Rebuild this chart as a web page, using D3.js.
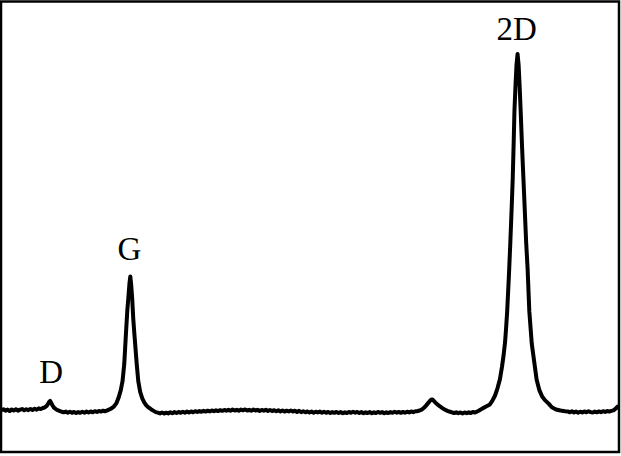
<!DOCTYPE html>
<html>
<head>
<meta charset="utf-8">
<script src="https://cdn.jsdelivr.net/npm/d3@7"></script>
<style>
  html, body { margin: 0; padding: 0; background: #fff; }
  svg { display: block; }
</style>
</head>
<body>
<svg id="chart" width="621" height="456"></svg>
<script>
// Raman shift (cm^-1)
const shifts = [
  1209,1216,1222,1228,1234,1240,1246,1252,1258,1264,1270,1276,1282,1288,1294,1300,1306,1312,1318,1324,
  1330,1336,1341,1345,1348,1351,1354,1358,1362,1367,1372,1378,1384,1390,1396,1402,1408,1414,1420,1426,
  1432,1438,1444,1450,1456,1462,1468,1474,1480,1486,1492,1498,1504,1510,1516,1522,1528,1535,1542,1548,
  1555,1560,1565,1570,1574,1577,1580,1582.5,1585,1588,1591,1594,1601,1605.5,1611,1617,1623,1629,1636,1643,
  1650,1656,1662,1668,1674,1680,1686,1692,1698,1704,1710,1716,1722,1728,1734,1740,1746,1752,1758,1764,
  1770,1776,1782,1788,1794,1800,1806,1812,1818,1824,1830,1836,1842,1848,1854,1860,1866,1872,1878,1884,
  1890,1896,1902,1908,1914,1920,1926,1932,1938,1944,1950,1956,1962,1968,1974,1980,1986,1992,1998,2004,
  2010,2016,2022,2028,2034,2040,2046,2052,2058,2064,2070,2076,2082,2088,2094,2100,2106,2112,2118,2124,
  2130,2136,2142,2148,2154,2160,2166,2172,2178,2184,2190,2196,2202,2208,2214,2220,2226,2232,2238,2244,
  2250,2256,2262,2268,2274,2280,2286,2292,2298,2304,2310,2316,2322,2328,2334,2340,2346,2352,2358,2364,
  2370,2376,2382,2388,2394,2400,2406,2412,2418,2424,2430,2436,2442,2447,2451,2455,2459,2464,2470,2476,
  2482,2488,2494,2500,2506,2512,2518,2524,2530,2536,2542,2548,2554,2560,2566,2572,2578,2584,2590,2600,
  2610,2620,2628,2636,2643,2650,2656,2661,2665,2668,2671,2676,2680,2684,2687,2690,2692,2695,2698,2701,
  2704,2707,2710,2714,2718,2722,2726,2730,2735,2742,2749,2756,2764,2772,2780,2790,2800,2812,2825,2838,
  2846,2852,2858,2864,2870,2876,2882,2888,2894,2900,2906,2912,2918,2924,2930,2936,2942,2948,2954,2960,
  2966,2972,2978,2984,2990,2994
];
// Intensity (arb. units, 2D peak = 100)
const intensity = [
  0.40,0.65,0.25,0.55,0.15,0.60,0.30,0.65,0.25,0.55,0.70,0.35,0.65,0.40,0.75,0.45,0.80,0.55,0.90,0.70,
  1.00,1.20,1.60,2.20,2.70,3.00,2.40,1.70,1.10,0.70,0.40,0.20,-0.05,-0.20,0.00,-0.30,-0.05,-0.35,-0.10,-0.40,
  -0.15,-0.35,-0.05,-0.30,0.00,-0.25,0.05,-0.20,0.10,-0.10,0.15,0.00,0.25,0.10,0.35,0.60,0.90,1.40,2.30,3.70,
  6.00,8.50,13.3,22.0,28.5,32.0,35.8,37.8,35.5,31.5,26.0,22.0,13.3,8.50,5.50,3.70,2.50,1.70,1.10,0.60,
  0.20,-0.15,-0.30,-0.50,-0.25,-0.55,-0.30,-0.50,-0.20,-0.45,-0.15,-0.40,-0.10,-0.35,-0.05,-0.30,0.00,-0.25,0.05,-0.20,
  0.10,-0.10,0.15,-0.05,0.20,0.00,0.25,0.05,0.30,0.10,0.35,0.15,0.40,0.20,0.45,0.25,0.50,0.25,0.55,0.30,
  0.50,0.25,0.55,0.35,0.60,0.30,0.50,0.25,0.55,0.30,0.50,0.20,0.45,0.25,0.50,0.20,0.45,0.15,0.40,0.10,
  0.35,0.05,0.30,0.00,0.25,0.05,0.30,0.00,0.25,-0.10,0.20,-0.15,0.10,-0.20,0.05,-0.25,0.00,-0.30,-0.05,-0.25,
  0.00,-0.30,-0.05,-0.35,-0.10,-0.40,-0.15,-0.35,-0.10,-0.40,-0.15,-0.45,-0.20,-0.40,-0.10,-0.35,-0.05,-0.30,-0.10,-0.40,
  -0.15,-0.45,-0.20,-0.40,-0.15,-0.45,-0.20,-0.40,-0.10,-0.35,-0.15,-0.45,-0.20,-0.40,-0.15,-0.35,-0.05,-0.30,-0.10,-0.35,
  -0.10,-0.30,-0.05,-0.25,0.05,-0.15,0.10,0.10,0.30,0.55,1.00,1.60,2.30,2.90,3.30,3.40,3.00,2.50,2.00,1.50,
  1.10,0.70,0.40,0.15,-0.05,-0.25,-0.40,-0.20,-0.45,-0.25,-0.50,-0.25,-0.45,-0.20,-0.40,-0.10,-0.25,0.00,0.30,0.90,
  1.40,1.90,3.00,4.50,6.50,9.00,12.5,16.0,19.5,23.5,28.0,38.0,47.0,57.0,65.0,76.0,84.0,91.0,97.0,100.0,
  97.0,91.0,84.0,74.0,65.0,56.0,47.0,40.0,28.0,19.0,14.0,9.00,6.00,4.20,3.20,2.30,1.20,0.60,0.30,0.10,
  0.05,-0.20,0.10,-0.25,0.00,-0.30,-0.05,-0.25,0.05,-0.20,0.10,-0.15,-0.25,0.00,-0.20,0.05,-0.15,0.10,-0.10,0.15,
  0.00,0.20,0.35,0.80,1.40,1.00
];
// Peak labels
const peakLabels = ["D", "G", "2D"];
const peakShifts = [1351, 1582.5, 2701];
const peakHeights = [3.0, 37.8, 100];

const W = 621, H = 456;
const svg = d3.select("#chart");

const x = d3.scaleLinear().domain([1209, 2994]).range([1, 619]);
const y = d3.scaleLinear().domain([-11.3, 114.8]).range([452, 1]);

svg.append("defs").append("clipPath").attr("id", "clip")
  .append("rect").attr("x", 1).attr("y", 1.5).attr("width", 618).attr("height", 450.5);

const data = shifts.map((s, i) => ({ s, v: intensity[i] }));

const line = d3.line()
  .x(d => x(d.s))
  .y(d => y(d.v))
  .curve(d3.curveLinear);

svg.append("path")
  .datum(data)
  .attr("clip-path", "url(#clip)")
  .attr("d", line)
  .attr("fill", "none")
  .attr("stroke", "#000")
  .attr("stroke-width", 4)
  .attr("stroke-linejoin", "round")
  .attr("stroke-linecap", "round");

// frame
svg.append("rect")
  .attr("x", 1).attr("y", 1.5)
  .attr("width", 618).attr("height", 450.5)
  .attr("fill", "none")
  .attr("stroke", "#000")
  .attr("stroke-width", 2.5);

// labels
const labelOffsets = [18, 16, 14];
svg.selectAll("text.peak")
  .data(peakLabels)
  .enter().append("text")
  .attr("class", "peak")
  .attr("x", (d, i) => x(peakShifts[i]) + (i === 0 ? 1 : -1))
  .attr("y", (d, i) => y(peakHeights[i]) - labelOffsets[i])
  .attr("text-anchor", "middle")
  .attr("font-family", "'Liberation Serif', 'Times New Roman', serif")
  .attr("font-size", 33)
  .attr("fill", "#000")
  .text(d => d);
</script>
</body>
</html>
